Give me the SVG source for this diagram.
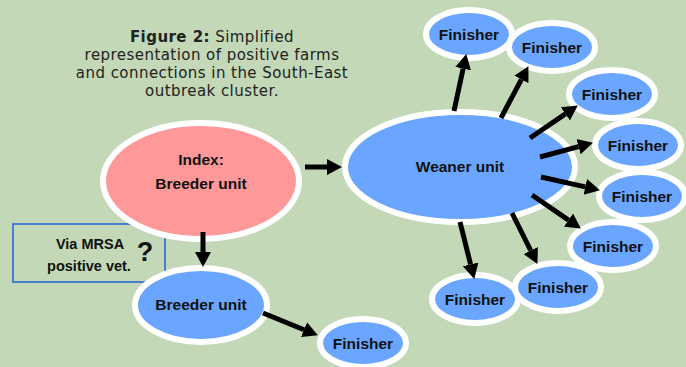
<svg xmlns="http://www.w3.org/2000/svg" width="686" height="367" viewBox="0 0 686 367">
<defs>
<style>
.bg{fill:#C2D8B6}
.node{stroke:#FFFFFF;stroke-width:6}
.blue{fill:#6AA6FF}
.pink{fill:#FF9999}
.lbl{font-family:"Liberation Sans",Arial,sans-serif;font-weight:bold;font-size:15.5px;fill:#111;text-anchor:middle}
.title{font-family:"DejaVu Sans",Verdana,sans-serif;font-size:15px;letter-spacing:0.45px;fill:#222;text-anchor:middle}
.conn line{stroke:#000;stroke-width:5;marker-end:url(#ah)}
</style>
<marker id="ah" markerUnits="userSpaceOnUse" markerWidth="16" markerHeight="18" refX="0" refY="8" orient="auto" viewBox="0 0 16 16">
<path d="M0,0 L15,8 L0,16 z" fill="#000"/>
</marker>
</defs>
<rect class="bg" x="0" y="0" width="686" height="367"/>
<g id="title">
<text class="title" x="212" y="42"><tspan font-weight="bold">Figure 2:</tspan> Simplified</text>
<text class="title" x="212" y="60">representation of positive farms</text>
<text class="title" x="212" y="78">and connections in the South-East</text>
<text class="title" x="212" y="96">outbreak cluster.</text>
</g>
<g id="note">
<rect x="13" y="224" width="152" height="58" fill="none" stroke="#1E62D6" stroke-width="1.5"/>
<text class="lbl" x="90" y="249" style="font-size:14.5px">Via MRSA</text>
<text class="lbl" x="89" y="271" style="font-size:14.5px">positive vet.</text>
<text class="lbl" x="145" y="261" style="font-size:27px">?</text>
</g>
<g id="index">
<ellipse class="node pink" cx="201" cy="181" rx="98" ry="58"/>
<text class="lbl" x="201" y="165">Index:</text>
<text class="lbl" x="201" y="189">Breeder unit</text>
</g>
<g id="weaner">
<ellipse class="node blue" cx="460" cy="167" rx="115" ry="55"/>
<text class="lbl" x="460" y="172">Weaner unit</text>
</g>
<g id="breeder">
<ellipse class="node blue" cx="201" cy="305" rx="66" ry="37"/>
<text class="lbl" x="201" y="310">Breeder unit</text>
</g>
<g id="finisher0">
<ellipse class="node blue" cx="363" cy="343" rx="43" ry="24"/>
<text class="lbl" x="363" y="349">Finisher</text>
</g>
<g id="finisher8">
<ellipse class="node blue" cx="475" cy="299" rx="43" ry="24"/>
<text class="lbl" x="475" y="305">Finisher</text>
</g>
<g id="finisher7">
<ellipse class="node blue" cx="558" cy="287" rx="43" ry="24"/>
<text class="lbl" x="558" y="293">Finisher</text>
</g>
<g id="finisher6">
<ellipse class="node blue" cx="613" cy="246" rx="43" ry="24"/>
<text class="lbl" x="613" y="252">Finisher</text>
</g>
<g id="finisher5">
<ellipse class="node blue" cx="642" cy="196" rx="43" ry="24"/>
<text class="lbl" x="642" y="202">Finisher</text>
</g>
<g id="finisher4">
<ellipse class="node blue" cx="638" cy="145" rx="43" ry="24"/>
<text class="lbl" x="638" y="151">Finisher</text>
</g>
<g id="finisher3">
<ellipse class="node blue" cx="612" cy="94" rx="43" ry="24"/>
<text class="lbl" x="612" y="100">Finisher</text>
</g>
<g id="finisher1">
<ellipse class="node blue" cx="469" cy="34" rx="43" ry="24"/>
<text class="lbl" x="469" y="40">Finisher</text>
</g>
<g id="finisher2">
<ellipse class="node blue" cx="552" cy="47" rx="43" ry="24"/>
<text class="lbl" x="552" y="53">Finisher</text>
</g>
<g id="connectors" class="conn">
<line x1="305" y1="167" x2="327" y2="167"/>
<line x1="203" y1="232" x2="203" y2="252"/>
<line x1="263" y1="313" x2="304" y2="329.7"/>
<line x1="454" y1="111" x2="463.1" y2="68.7"/>
<line x1="501" y1="118" x2="521.4" y2="79.4"/>
<line x1="530" y1="138" x2="565.4" y2="113.9"/>
<line x1="540" y1="157" x2="578.5" y2="146.6"/>
<line x1="541" y1="177" x2="585.3" y2="186.9"/>
<line x1="532" y1="195" x2="568.5" y2="220.1"/>
<line x1="512" y1="213" x2="530.7" y2="250.5"/>
<line x1="460" y1="222" x2="470.6" y2="264.4"/>
</g>
</svg>
